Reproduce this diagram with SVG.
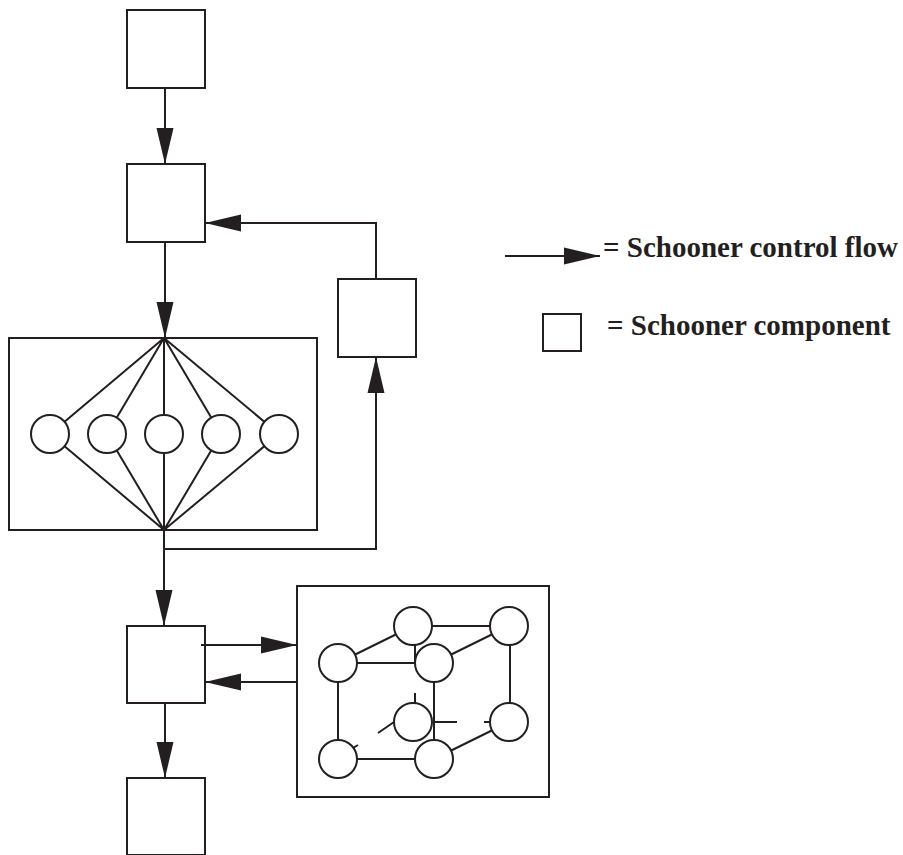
<svg xmlns="http://www.w3.org/2000/svg" width="903" height="855" viewBox="0 0 903 855">
  <style>
    .box { fill: #fff; stroke: #231f20; stroke-width: 2; }
    .edge { fill: none; stroke: #231f20; stroke-width: 2; }
    .node { fill: #fff; stroke: #231f20; stroke-width: 2; }
    .flow { fill: none; stroke: #231f20; stroke-width: 2; marker-end: url(#head); }
    .label { font-family: "Liberation Serif", "Times New Roman", serif; font-weight: bold; font-size: 29px; fill: #231f20; }
  </style>
  <defs>
    <marker id="head" markerUnits="userSpaceOnUse" markerWidth="37" markerHeight="20" refX="36" refY="9" orient="auto">
      <path d="M0,0.5 L36,9 L0,17.5 z" fill="#231f20"/>
    </marker>
  </defs>
  <rect width="903" height="855" fill="#fff"/>

  <!-- components -->
  <g id="start">
    <rect class="box" x="127" y="10" width="78" height="78"/>
  </g>
  <g id="dispatch">
    <rect class="box" x="127" y="164" width="78" height="78"/>
  </g>
  <g id="feedback">
    <rect class="box" x="338" y="279" width="78" height="78"/>
  </g>

  <!-- parallel fan-out / fan-in component -->
  <g id="parallel">
    <rect class="box" x="9" y="338" width="308" height="192"/>
    <path class="edge" d="M164,338 L50,434 L164,530 M164,338 L107,434 L164,530 M164,338 L164,530 M164,338 L221,434 L164,530 M164,338 L279,434 L164,530"/>
    <circle class="node" cx="50" cy="434" r="19"/>
    <circle class="node" cx="107" cy="434" r="19"/>
    <circle class="node" cx="164" cy="434" r="19"/>
    <circle class="node" cx="221" cy="434" r="19"/>
    <circle class="node" cx="279" cy="434" r="19"/>
  </g>

  <g id="coupler">
    <rect class="box" x="127" y="626" width="78" height="77"/>
  </g>
  <g id="end">
    <rect class="box" x="127" y="778" width="78" height="77"/>
  </g>

  <!-- cube-connected component -->
  <g id="cube">
    <rect class="box" x="297" y="586" width="252" height="211"/>
    <!-- visible edges -->
    <path class="edge" d="M413,626 L509,626 M338,663 L434,663 M338,663 L413,626 M434,663 L509,626
                          M338,663 L338,759 M434,663 L434,759 M510,626 L510,722
                          M338,759 L434,759 M434,759 L509,722 M484,722 L490,722"/>
    <!-- broken hidden edges -->
    <path class="edge" d="M415,626 L415,662 M415,693 L415,722 M434,722 L457,722 M378,733 L394,722 M353,748 L358,745"/>
    <circle class="node" cx="413" cy="626" r="19"/>
    <circle class="node" cx="509" cy="626" r="19"/>
    <circle class="node" cx="338" cy="663" r="19"/>
    <circle class="node" cx="434" cy="663" r="19"/>
    <circle class="node" cx="413" cy="722" r="19"/>
    <circle class="node" cx="509" cy="722" r="19"/>
    <circle class="node" cx="338" cy="759" r="19"/>
    <circle class="node" cx="434" cy="759" r="19"/>
  </g>

  <!-- control flow -->
  <g id="connectors">
    <path class="flow" d="M165,88 L165,164"/>
    <path class="flow" d="M165,242 L165,338"/>
    <path class="flow" d="M376,279 L376,223 L205,223"/>
    <path class="flow" d="M164,530 L164,626"/>
    <path class="flow" d="M164,549 L376,549 L376,357"/>
    <path class="flow" d="M201,645 L297,645"/>
    <path class="flow" d="M297,682 L205,682"/>
    <path class="flow" d="M165,703 L165,778"/>
  </g>

  <!-- legend -->
  <g id="legend">
    <path class="flow" d="M505,256 L600,256"/>
    <text class="label" x="603" y="257">= Schooner control flow</text>
    <rect class="box" x="543" y="314" width="38" height="37"/>
    <text class="label" x="607" y="335">= Schooner component</text>
  </g>
</svg>
